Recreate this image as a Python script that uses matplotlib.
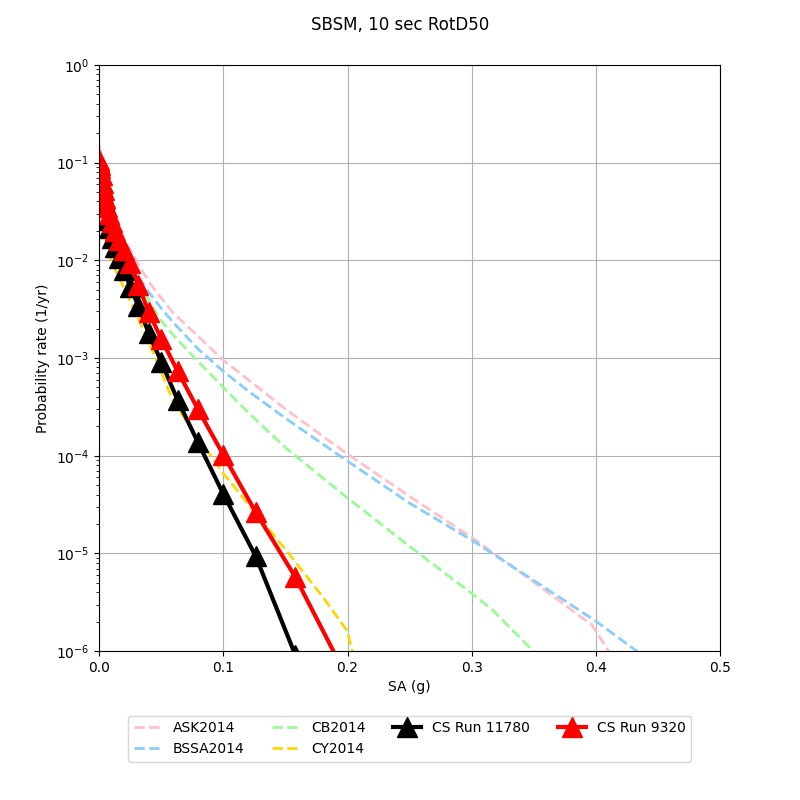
import matplotlib
matplotlib.use("Agg")
import matplotlib.pyplot as plt

# ---- CyberShake hazard curves ----
cs_x = [0.0001, 0.0002, 0.0005, 0.001, 0.002, 0.00316, 0.00398, 0.00501, 0.00631,
        0.00794, 0.01, 0.0126, 0.0158, 0.02, 0.0251, 0.0316, 0.0398, 0.0501, 0.0631,
        0.0794, 0.1, 0.126, 0.158, 0.1995]
cs_11780 = [0.0841, 0.0801, 0.0748, 0.0681, 0.0577, 0.0478, 0.0415, 0.0360, 0.0259,
            0.0214, 0.01695, 0.01368, 0.01057, 7.96e-3, 5.33e-3, 3.40e-3, 1.80e-3,
            9.10e-4, 3.72e-4, 1.38e-4, 4.05e-5, 9.4e-6, 9.1e-7, 8e-8]
cs_9320 = [0.1064, 0.1016, 0.0946, 0.0881, 0.0748, 0.0620, 0.0525, 0.0434, 0.0352,
           0.0298, 0.0247, 0.0200, 0.01614, 0.01277, 9.40e-3, 5.58e-3, 2.96e-3,
           1.56e-3, 7.36e-4, 3.01e-4, 1.02e-4, 2.65e-5, 5.72e-6, 5.4e-7]

# ---- GMPE hazard curves ----
ask_x = [0.0001, 0.005, 0.01, 0.015, 0.02, 0.03, 0.04, 0.05, 0.06, 0.08, 0.1, 0.12,
         0.15, 0.2, 0.25, 0.3, 0.35, 0.397, 0.43]
ask_y = [0.15, 0.07, 0.04, 0.025, 0.0165, 9.9e-3, 6.0e-3, 4.1e-3, 2.86e-3, 1.65e-3,
         9.5e-4, 6.0e-4, 3.0e-4, 1.04e-4, 3.84e-5, 1.46e-5, 5.1e-6, 1.85e-6, 4e-7]

bssa_x = [0.0001, 0.005, 0.01, 0.015, 0.02, 0.03, 0.04, 0.05, 0.06, 0.08, 0.1, 0.12,
          0.15, 0.2, 0.25, 0.3, 0.35, 0.4, 0.45]
bssa_y = [0.13, 0.06, 0.035, 0.022, 0.015, 7.3e-3, 4.71e-3, 3.22e-3, 2.28e-3, 1.225e-3,
          7.3e-4, 4.6e-4, 2.42e-4, 8.8e-5, 3.27e-5, 1.37e-5, 5.3e-6, 2.03e-6, 6.95e-7]

cb_x = [0.0001, 0.005, 0.01, 0.015, 0.02, 0.03, 0.04, 0.05, 0.06, 0.08, 0.1, 0.12,
        0.15, 0.2, 0.25, 0.3, 0.316, 0.36]
cb_y = [0.12, 0.05, 0.03, 0.019, 0.0125, 6.5e-3, 3.9e-3, 2.4e-3, 1.7e-3, 9.1e-4,
        5.0e-4, 2.76e-4, 1.21e-4, 3.7e-5, 1.18e-5, 3.9e-6, 2.7e-6, 7.4e-7]

cy_x = [0.0001, 0.005, 0.01, 0.015, 0.02, 0.03, 0.04, 0.05, 0.06, 0.08, 0.1, 0.12,
        0.15, 0.18, 0.2, 0.206]
cy_y = [0.07, 0.017, 9.7e-3, 7.1e-3, 5.2e-3, 2.8e-3, 1.45e-3, 7.2e-4, 3.5e-4, 1.51e-4,
        6.6e-5, 3.2e-5, 1.1e-5, 3.6e-6, 1.6e-6, 7.5e-7]

title = "SBSM, 10 sec RotD50"

fig = plt.figure(figsize=(8, 8), dpi=100)
ax = fig.add_axes([0.124, 0.186, 0.776, 0.733])

ax.plot(ask_x, ask_y, color="pink", linestyle="--", linewidth=2, label="ASK2014")
ax.plot(bssa_x, bssa_y, color="lightskyblue", linestyle="--", linewidth=2, label="BSSA2014")
ax.plot(cb_x, cb_y, color="palegreen", linestyle="--", linewidth=2, label="CB2014")
ax.plot(cy_x, cy_y, color="gold", linestyle="--", linewidth=2, label="CY2014")
ax.plot(cs_x, cs_11780, color="black", linewidth=3, marker="^", markersize=15,
        label="CS Run 11780")
ax.plot(cs_x, cs_9320, color="red", linewidth=3, marker="^", markersize=15,
        label="CS Run 9320")

ax.set_yscale("log")
ax.set_xlim(0, 0.5)
ax.set_ylim(1e-6, 1)
ax.grid(True, which="major")
ax.set_xlabel("SA (g)")
ax.set_ylabel("Probability rate (1/yr)")
fig.suptitle(title)

ax.legend(loc="upper center", bbox_to_anchor=(0.5, -0.098), ncol=4)

fig.savefig("out.png", dpi=100)
